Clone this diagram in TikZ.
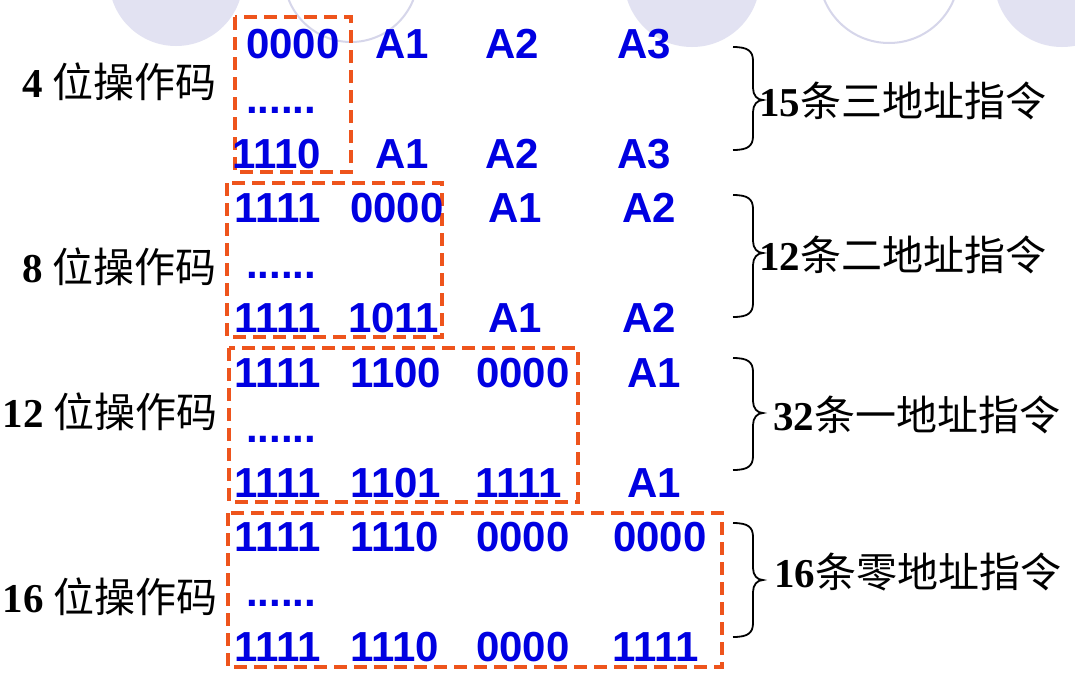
\documentclass[tikz,border=0pt]{standalone}
\usepackage{fontspec}
\setmainfont{Liberation Serif}
\setsansfont{Liberation Sans}
\newfontfamily\cjk{Noto Sans CJK SC}
\definecolor{codeblue}{RGB}{0,0,225}
\definecolor{boxorange}{RGB}{238,84,28}
\definecolor{circfill}{RGB}{226,226,242}
\definecolor{circline}{RGB}{214,214,234}
\newcommand\mybitfont{\sffamily\bfseries\fontsize{42}{42}\selectfont}
\newcommand\mylabfont{\fontsize{41}{41}\selectfont}
\newcommand\drawbrace[3]{%
  \draw[bracestyle] (733,#1) .. controls (748,#1) and (753,#1+4) .. (753,#1+14)
    -- (753,#2-12) .. controls (753,#2-5) and (757,#2) .. (763,#2)
    .. controls (757,#2) and (753,#2+5) .. (753,#2+12)
    -- (753,#3-14) .. controls (753,#3-4) and (748,#3) .. (733,#3);}
\tikzset{
  bits/.style={font=\mybitfont, text=codeblue, anchor=base west, inner sep=0pt},
  llab/.style={font=\mylabfont, anchor=base east, inner sep=0pt},
  rlab/.style={font=\mylabfont, anchor=base west, inner sep=0pt},
  opbox/.style={draw=boxorange, line width=3.4pt, dash pattern=on 13pt off 7pt},
  bracestyle/.style={draw=black, line width=1.8pt},
  bgfill/.style={fill=circfill},
  bgline/.style={draw=circline, line width=2pt, fill=white}
}
\begin{document}
\begin{tikzpicture}[x=1pt,y=-1pt]
\useasboundingbox (0,0) rectangle (1075,681);
\fill[white] (0,0) rectangle (1075,681);
\begin{scope}
\clip (0,0) rectangle (1075,681);
\fill[bgfill] (176,-21) circle (67);
\draw[bgline] (351,-25) circle (67);
\fill[bgfill] (692,-21) circle (68);
\draw[bgline] (889,-27) circle (70);
\fill[bgfill] (1062,-21) circle (68);
\end{scope}

% dashed boxes
\draw[opbox] (235,17) rectangle (351,172);
\draw[opbox] (227,183) rectangle (442,337);
\draw[opbox] (229,348) rectangle (578,502);
\draw[opbox] (228,513) rectangle (722,667);

% group 1
\node[bits] (a1) at (246,58) {0000};
\node[bits] (a2) at (375,58) {A1};
\node[bits] (a3) at (485,58) {A2};
\node[bits] (a4) at (617,58) {A3};
\node[bits] (ad) at (246,113) {......};
\node[bits] (b1) at (232,168) {1110};
\node[bits] (b2) at (375,168) {A1};
\node[bits] (b3) at (485,168) {A2};
\node[bits] (b4) at (617,168) {A3};

% group 2
\node[bits] (c1) at (234,222) {1111};
\node[bits] (c2) at (350,222) {0000};
\node[bits] (c3) at (488,222) {A1};
\node[bits] (c4) at (622,222) {A2};
\node[bits] (cd) at (246,278) {......};
\node[bits] (d1) at (234,332) {1111};
\node[bits] (d2) at (348,332) {1011};
\node[bits] (d3) at (488,332) {A1};
\node[bits] (d4) at (622,332) {A2};

% group 3
\node[bits] (e1) at (234,387) {1111};
\node[bits] (e2) at (350,387) {1100};
\node[bits] (e3) at (476,387) {0000};
\node[bits] (e4) at (627,387) {A1};
\node[bits] (ed) at (246,442) {......};
\node[bits] (f1) at (234,497) {1111};
\node[bits] (f2) at (350,497) {1101};
\node[bits] (f3) at (475,497) {1111};
\node[bits] (f4) at (627,497) {A1};

% group 4
\node[bits] (g1) at (234,551) {1111};
\node[bits] (g2) at (350,551) {1110};
\node[bits] (g3) at (476,551) {0000};
\node[bits] (g4) at (613,551) {0000};
\node[bits] (gd) at (246,606) {......};
\node[bits] (h1) at (234,661) {1111};
\node[bits] (h2) at (350,661) {1110};
\node[bits] (h3) at (476,661) {0000};
\node[bits] (h4) at (612,661) {1111};

% left labels
\node[llab] (l1) at (217,97) {\textbf{4} \cjk 位操作码};
\node[llab] (l2) at (217,282) {\textbf{8} \cjk 位操作码};
\node[llab] (l3) at (218,427) {\textbf{12} \cjk 位操作码};
\node[llab] (l4) at (218,612) {\textbf{16} \cjk 位操作码};

% braces
\drawbrace{47}{100}{150}
\drawbrace{195}{253}{317}
\drawbrace{358}{413}{470}
\drawbrace{523}{580}{637}

% right labels
\node[rlab] (r1) at (759,116) {\textbf{15}\cjk 条三地址指令};
\node[rlab] (r2) at (759,270) {\textbf{12}\cjk 条二地址指令};
\node[rlab] (r3) at (773,430) {\textbf{32}\cjk 条一地址指令};
\node[rlab] (r4) at (774,587) {\textbf{16}\cjk 条零地址指令};
\end{tikzpicture}
\end{document}
